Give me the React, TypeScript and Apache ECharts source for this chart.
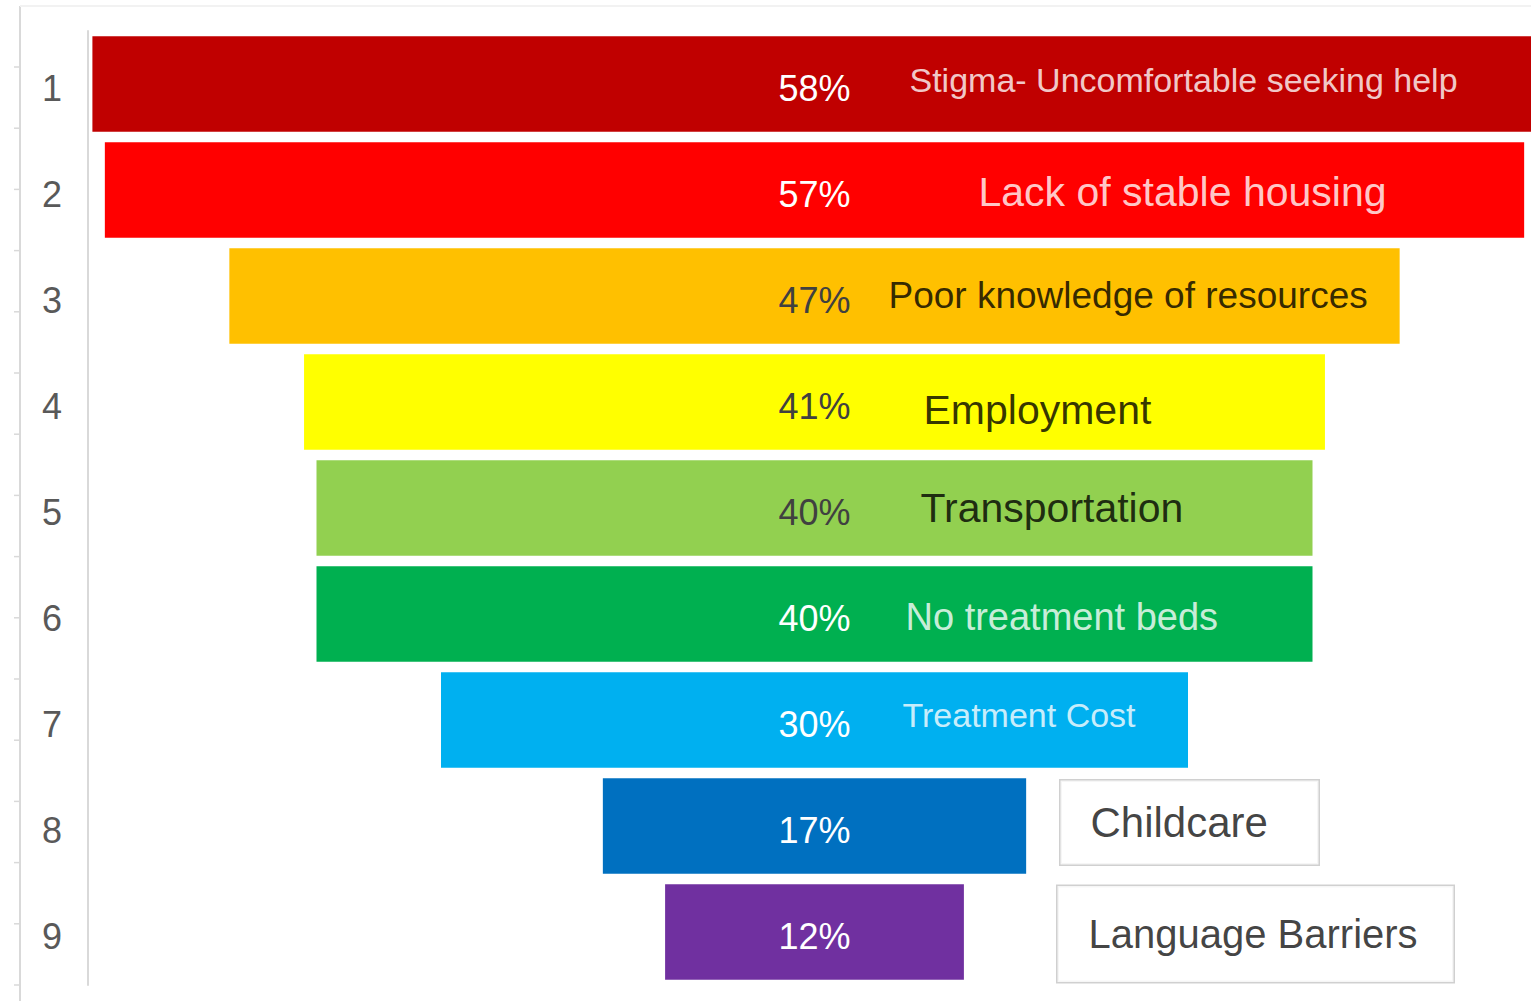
import React, { useEffect, useRef } from "react";
import * as echarts from "echarts";

// ---- data ----
const ranks = ["1", "2", "3", "4", "5", "6", "7", "8", "9"];
const factors = [
  "Stigma- Uncomfortable seeking help",
  "Lack of stable housing",
  "Poor knowledge of resources",
  "Employment",
  "Transportation",
  "No treatment beds",
  "Treatment Cost",
  "Childcare",
  "Language Barriers",
];
const percents = [58, 57, 47, 41, 40, 40, 30, 17, 12];

// ---- styles ----
const barColors = ["#C00000", "#FF0000", "#FFC000", "#FFFF00", "#92D050", "#00B050", "#00B0F0", "#0070C0", "#7030A0"];
const valueTextColors = ["#ffffff", "#ffffff", "#404040", "#404040", "#404040", "#ffffff", "#ffffff", "#ffffff", "#ffffff"];
const factorTextColors = ["#ffffff", "#ffffff", "#000000", "#000000", "#000000", "#ffffff", "#ffffff", "#111111", "#111111"];
const factorFontSizes = [34, 41, 37, 41, 41, 38, 34, 42, 40];
const factorLetterSpacing = [0, 0, 0, 0, 0.6, 0, 0, 0, 0];
const factorBoxed = [false, false, false, false, false, false, false, true, true];

// ---- layout ----
const W = 1531;
const H = 1001;
const AXIS_LEFT = 88;
const PX_PER_PCT = 24.9;
const X_MAX = (W - AXIS_LEFT) / PX_PER_PCT;
const CENTER = (814.5 - AXIS_LEFT) / PX_PER_PCT;
const factorLabelLeftPx = [909, 978, 888, 923, 920, 905, 902, 1060, 1057];
const factorOffsetY = [-4, 1.5, -1, 8, 0, 3, -5, -3.5, 2];
const boxWidths = [0, 0, 0, 0, 0, 0, 0, 228, 365];
const boxPadding = [null, null, null, null, null, null, null, [21, 0, 21, 30], [24, 0, 32, 31]];
const FONT = "'Liberation Sans', Arial, sans-serif";

export default function App() {
  const ref = useRef<HTMLDivElement>(null);

  useEffect(() => {
    if (!ref.current) return;
    const chart = echarts.init(ref.current, undefined, { renderer: "svg" });

    const offsets = percents.map((v) => CENTER - v / 2);

    const factorData = factors.map((name, i) => {
      const boxed = factorBoxed[i];
      const label: any = {
        show: true,
        position: "right",
        distance: 0,
        formatter: name,
        color: factorTextColors[i],
        fontSize: factorFontSizes[i],
        fontFamily: FONT,
        offset: [0, factorOffsetY[i]],
      };
      if (factorLetterSpacing[i]) label.letterSpacing = factorLetterSpacing[i];
      if (boxed) {
        label.backgroundColor = "#ffffff";
        label.borderColor = "#c4c4c4";
        label.borderWidth = 1.5;
        label.padding = boxPadding[i];
        label.width = boxWidths[i];
        label.lineHeight = factorFontSizes[i];
      }
      return {
        value: [(factorLabelLeftPx[i] - AXIS_LEFT) / PX_PER_PCT, i],
        label,
      };
    });

    const lines: any[] = [];
    lines.push({
      type: "line",
      shape: { x1: 20, y1: 6, x2: 20, y2: H },
      style: { stroke: "#d9d9d9", lineWidth: 2 },
    });
    lines.push({
      type: "line",
      shape: { x1: 20, y1: 6, x2: W, y2: 6 },
      style: { stroke: "#f2f2f2", lineWidth: 2 },
    });
    for (let y = 67; y < H; y += 61.2) {
      lines.push({
        type: "line",
        shape: { x1: 14, y1: y, x2: 20, y2: y },
        style: { stroke: "#d9d9d9", lineWidth: 1.5 },
      });
    }

    chart.setOption({
      animation: false,
      backgroundColor: "#ffffff",
      grid: { left: AXIS_LEFT, right: 0, top: 31, bottom: 16, containLabel: false },
      xAxis: {
        type: "value",
        min: 0,
        max: X_MAX,
        show: false,
      },
      yAxis: {
        type: "category",
        inverse: true,
        data: ranks,
        axisLine: { show: true, lineStyle: { color: "#d9d9d9", width: 2 } },
        axisTick: { show: false },
        axisLabel: {
          align: "center",
          margin: 36,
          formatter: "{v|{value}}",
          rich: {
            v: {
              color: "#595959",
              fontSize: 36,
              fontFamily: FONT,
              padding: [8, 0, 0, 0],
            },
          },
        },
        splitLine: { show: false },
      },
      graphic: lines,
      series: [
        {
          type: "bar",
          stack: "funnel",
          data: offsets,
          itemStyle: { color: "transparent" },
          barCategoryGap: "10%",
          silent: true,
          clip: false,
          label: { show: false },
        },
        {
          type: "bar",
          stack: "funnel",
          barCategoryGap: "10%",
          clip: false,
          data: percents.map((v, i) => ({
            value: v,
            itemStyle: { color: barColors[i] },
            label: { color: valueTextColors[i] },
          })),
          label: {
            show: true,
            position: "inside",
            formatter: "{c}%",
            fontSize: 36,
            fontFamily: FONT,
            offset: [0, 4],
          },
        },
        {
          type: "scatter",
          data: factorData,
          symbolSize: 1,
          itemStyle: { color: "transparent" },
          silent: true,
          z: 5,
        },
      ],
    });

    return () => chart.dispose();
  }, []);

  return (
    <div
      ref={ref}
      style={{ position: "absolute", left: 0, top: 0, width: W, height: H, overflow: "hidden" }}
    />
  );
}
